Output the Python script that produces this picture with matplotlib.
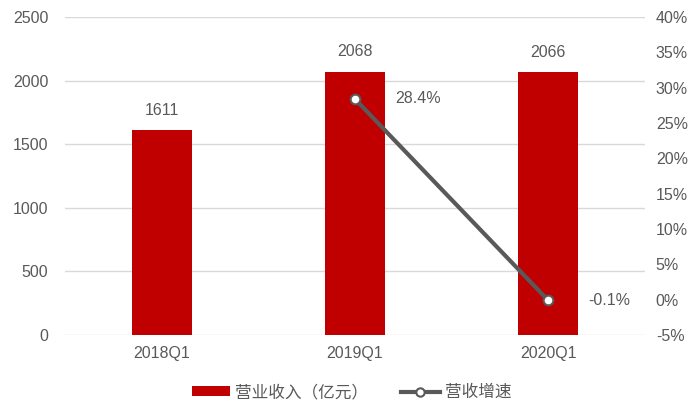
import matplotlib.pyplot as plt
import numpy as np

plt.rcParams['font.family'] = ['Liberation Sans', 'Noto Sans CJK SC', 'DejaVu Sans']

categories = ['2018Q1', '2019Q1', '2020Q1']
revenue = [1611, 2068, 2066]
growth = [None, 28.4, -0.1]
growth_labels = ['', '28.4%', '-0.1%']

left_ticks = [0, 500, 1000, 1500, 2000, 2500]
right_ticks = [-5, 0, 5, 10, 15, 20, 25, 30, 35, 40]

TEXT = '#595959'
RED = '#C00000'
LINE = '#595959'


def main():
    fig = plt.figure(figsize=(7, 4.15), dpi=100)
    ax = fig.add_axes([0.093, 0.193, 0.828, 0.766])
    x = np.arange(len(categories))

    ax.bar(x, revenue, width=0.31, color=RED, zorder=2, label='营业收入（亿元）')
    for xi, v in zip(x, revenue):
        ax.annotate(str(v), (xi, v), xytext=(0, 9), textcoords='offset points',
                    ha='center', va='bottom', fontsize=11.5, color=TEXT)

    ax.set_xlim(-0.5, len(categories) - 0.5)
    ax.set_ylim(0, 2500)
    ax.set_yticks(left_ticks)
    ax.set_xticks(x)
    ax.set_xticklabels(categories)
    ax.grid(axis='y', color='#D9D9D9', linewidth=1, zorder=0)
    ax.set_axisbelow(True)
    for s in ax.spines.values():
        s.set_visible(False)
    ax.tick_params(length=0, colors=TEXT, labelsize=11.5)
    ax.tick_params(axis='x', pad=8)
    ax.tick_params(axis='y', pad=12)

    ax2 = ax.twinx()
    gx = [xi for xi, g in zip(x, growth) if g is not None]
    gy = [g for g in growth if g is not None]
    ax2.plot(gx, gy, color=LINE, linewidth=3, marker='o', markersize=7,
             markerfacecolor='white', markeredgecolor=LINE, markeredgewidth=1.5,
             zorder=3, label='营收增速')
    for xi, g, lab in zip(x, growth, growth_labels):
        if g is None:
            continue
        ax2.annotate(lab, (xi, g), xytext=(29, 0), textcoords='offset points',
                     ha='left', va='center', fontsize=11.5, color=TEXT)
    ax2.set_ylim(-5, 40)
    ax2.set_yticks(right_ticks)
    ax2.set_yticklabels([f'{t}%' for t in right_ticks])
    for s in ax2.spines.values():
        s.set_visible(False)
    ax2.tick_params(length=0, colors=TEXT, labelsize=11.5, pad=8)

    h1, l1 = ax.get_legend_handles_labels()
    h2, l2 = ax2.get_legend_handles_labels()
    leg = fig.legend(h1 + h2, l1 + l2, loc='center', bbox_to_anchor=(0.502, 0.055),
                     ncol=2, frameon=False, fontsize=12, labelcolor=TEXT,
                     handlelength=2.3, handleheight=0.5, handletextpad=0.3,
                     columnspacing=2.0)
    leg.legend_handles[1].set_markersize(6)

    fig.savefig('out.png', dpi=100)


if __name__ == "__main__":
    main()
